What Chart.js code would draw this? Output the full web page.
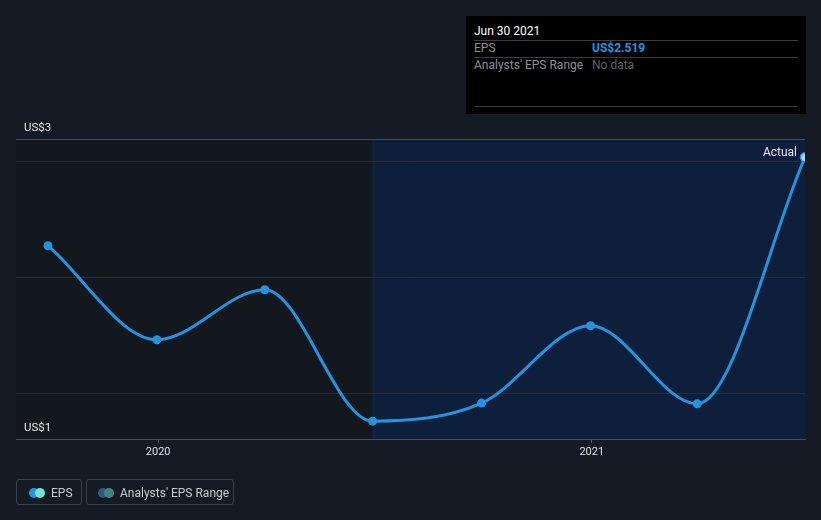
<!DOCTYPE html>
<html>
<head>
<meta charset="utf-8">
<script src="https://cdn.jsdelivr.net/npm/chart.js@4"></script>
<style>
  html, body { margin:0; padding:0; background:#151b25; }
  #wrap { position:relative; width:821px; height:520px; overflow:hidden; font-family:Roboto, "Noto Sans", sans-serif; }
  canvas { position:absolute; left:0; top:0; }
  #tip { position:absolute; left:466px; top:16px; width:340px; height:98px; background:#000; }
  .tl { position:absolute; font-size:12px; line-height:14px; white-space:nowrap; }
  .hr { position:absolute; left:8px; width:324px; height:1px; background:#3a3d42; }
  .btn { position:absolute; top:479px; height:26px; border:1px solid #3a404b; border-radius:3px; box-sizing:border-box; }
  .btn span.t { position:absolute; top:6px; font-size:12px; line-height:14px; color:#c8ccd2; white-space:nowrap; }
  .dot { position:absolute; top:8px; width:10px; height:10px; border-radius:50%; }
</style>
</head>
<body>
<div id="wrap">
  <canvas id="c" width="821" height="520"></canvas>
  <div id="tip">
    <div class="tl" style="left:8px;top:8px;color:#ffffff;">Jun 30 2021</div>
    <div class="hr" style="top:24px;"></div>
    <div class="tl" style="left:8px;top:25px;color:#8b9097;">EPS</div>
    <div class="tl" style="left:126px;top:25px;color:#2394e0;font-weight:bold;">US$2.519</div>
    <div class="hr" style="top:41px;"></div>
    <div class="tl" style="left:8px;top:42px;color:#8b9097;">Analysts' EPS Range</div>
    <div class="tl" style="left:126px;top:42px;color:#5b6067;">No data</div>
    <div class="hr" style="top:90px;"></div>
  </div>
  <div class="btn" style="left:16px;width:66px;">
    <div class="dot" style="left:12px;background:#2394e0;"></div>
    <div class="dot" style="left:18px;background:#6fe3d6;"></div>
    <span class="t" style="left:34px;">EPS</span>
  </div>
  <div class="btn" style="left:86px;width:148px;">
    <div class="dot" style="left:11px;background:#2a5a86;"></div>
    <div class="dot" style="left:17px;background:#3f8584;"></div>
    <span class="t" style="left:33px;">Analysts' EPS Range</span>
  </div>
</div>
<script>
// ---- data ----
const dates = ['2019-09-30','2019-12-31','2020-03-31','2020-06-30','2020-09-30','2020-12-31','2021-03-31','2021-06-30'];
const eps = [2.137, 1.731, 1.947, 1.379, 1.457, 1.791, 1.454, 2.519];
const xTickDates = ['2020-01-01','2021-01-01'];
const xTickLabels = ['2020','2021'];
const yTickLabels = ['US$1','US$3'];
const yMin = 1.302, yMax = 2.598;
const yGrid = [1.5, 2.0, 2.5];
const xStart = '2019-09-03';
const shadeStart = '2020-06-30';
const actualLabel = 'Actual';

const day = s => { const [y,m,d] = s.split('-').map(Number); return Date.UTC(y, m-1, d) / 864e5; };

const pts = dates.map((d,i) => ({x: day(d), y: eps[i]}));
const ptColors = eps.map((v,i) => i === eps.length-1 ? '#a8d4f5' : '#2394e0');

Chart.defaults.font.family = 'Roboto, "Noto Sans", sans-serif';

const bgPlugin = {
  id: 'bgShade',
  beforeDraw(chart) {
    const {ctx, chartArea: a, scales: {x}} = chart;
    const xs = x.getPixelForValue(day(shadeStart));
    ctx.save();
    ctx.fillStyle = '#13171e';
    ctx.fillRect(a.left, a.top, xs - a.left, a.bottom - a.top);
    ctx.fillStyle = '#0d1f3b';
    ctx.fillRect(xs, a.top, a.right - xs, a.bottom - a.top);
    ctx.fillStyle = 'rgba(35,148,224,0.12)';
    ctx.fillRect(xs, a.top, 1, a.bottom - a.top);
    ctx.restore();
  }
};

const actualPlugin = {
  id: 'actualLabel',
  afterDatasetsDraw(chart) {
    const meta = chart.getDatasetMeta(0);
    const p = meta.data[meta.data.length - 1];
    const ctx = chart.ctx;
    ctx.save();
    ctx.font = '12px Roboto, "Noto Sans", sans-serif';
    ctx.fillStyle = '#e8e8e8';
    ctx.textAlign = 'right';
    ctx.textBaseline = 'middle';
    ctx.fillText(actualLabel, p.x - 8, p.y - 4.5);
    ctx.restore();
  }
};

new Chart(document.getElementById('c'), {
  type: 'line',
  data: {
    datasets: [{
      label: 'EPS',
      data: pts,
      borderColor: '#2394e0',
      borderWidth: 3,
      cubicInterpolationMode: 'monotone',
      pointRadius: 4.5,
      pointBackgroundColor: ptColors,
      pointBorderColor: '#2394e0',
      pointBorderWidth: eps.map((v,i) => i === eps.length-1 ? 1.5 : 0),
      fill: false
    }]
  },
  options: {
    responsive: false,
    animation: false,
    events: [],
    layout: { padding: { top: 139, left: 16, right: 16, bottom: 0 } },
    plugins: { legend: { display: false }, tooltip: { enabled: false } },
    scales: {
      x: {
        type: 'linear',
        min: day(xStart),
        max: day(dates[dates.length-1]),
        afterBuildTicks: s => { s.ticks = xTickDates.map(d => ({value: day(d)})); },
        afterFit: s => { s.height = 81; },
        ticks: {
          callback: (v, i) => xTickLabels[i],
          color: '#e0e0e0',
          font: { size: 11 },
          padding: 3,
          maxRotation: 0,
          autoSkip: false
        },
        grid: { drawOnChartArea: false, drawTicks: true, tickLength: 4, color: '#5a606a' },
        border: { color: '#4a505a', width: 1 }
      },
      y: {
        min: yMin,
        max: yMax,
        afterBuildTicks: s => { s.ticks = [yMin, ...yGrid, yMax].map(v => ({value: v})); },
        afterFit: s => { s.width = 0; },
        ticks: {
          mirror: true,
          padding: 8,
          labelOffset: -11,
          color: '#e6e6e6',
          font: { size: 11.5 },
          callback: (v) => v === yMin ? yTickLabels[0] : (v === yMax ? yTickLabels[1] : '')
        },
        grid: {
          drawTicks: false,
          color: c => c.tick && c.tick.value === yMax ? '#474d57' : (c.tick && c.tick.value === yMin ? 'rgba(0,0,0,0)' : '#272d37')
        },
        border: { display: false }
      }
    }
  },
  plugins: [bgPlugin, actualPlugin]
});
</script>
</body>
</html>
